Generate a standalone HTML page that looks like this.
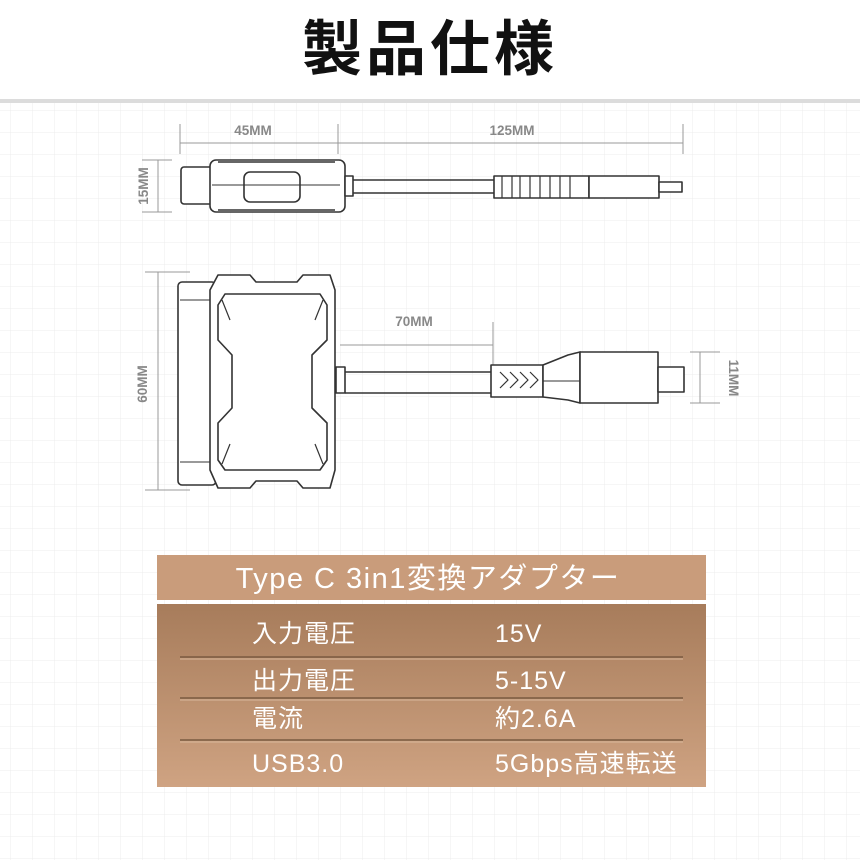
<!DOCTYPE html>
<html><head><meta charset="utf-8"><style>
html,body{margin:0;padding:0;background:#fff}
svg{display:block}
text{font-family:"Liberation Sans","Noto Sans CJK JP",sans-serif}
</style></head><body>
<svg width="860" height="860" viewBox="0 0 860 860" xmlns="http://www.w3.org/2000/svg">
<defs>
<pattern id="g" x="10" y="0" width="22" height="22" patternUnits="userSpaceOnUse">
<path d="M0 0V22M0 0H22" stroke="#ececec" stroke-width="1" fill="none"/>
</pattern>
<linearGradient id="tb" x1="0" y1="0" x2="0" y2="1">
<stop offset="0" stop-color="#a77c5b"/><stop offset="1" stop-color="#cfa382"/>
</linearGradient>
</defs>
<rect width="860" height="860" fill="#fff"/>
<rect x="0" y="103" width="860" height="757" fill="url(#g)"/>
<rect x="0" y="99" width="860" height="4" fill="#dcdcdc"/>
<text x="430" y="70" text-anchor="middle" font-size="60" font-weight="bold" letter-spacing="4" fill="#111">製品仕様</text>

<g stroke="#999" stroke-width="1" fill="none">
<path d="M180 124V154M180 143H683M338 124V154M683 124V154"/>
<path d="M142 160H172M142 212H172M158 160V212"/>
<path d="M145 272H190M145 490H190M158 272V490"/>
<path d="M340 345H493M493 322V370"/>
<path d="M690 352H720M690 403H720M700 352V403"/>
</g>
<g fill="#888" font-weight="bold" font-size="13.5">
<text x="253" y="135" text-anchor="middle">45MM</text>
<text x="512" y="135" text-anchor="middle">125MM</text>
<text x="414" y="326" text-anchor="middle">70MM</text>
<text transform="translate(148,186) rotate(-90)" text-anchor="middle">15MM</text>
<text transform="translate(147,384) rotate(-90)" text-anchor="middle">60MM</text>
<text transform="translate(729,378) rotate(90)" text-anchor="middle">11MM</text>
</g>

<g stroke="#333" stroke-width="1.6" fill="#fff" stroke-linejoin="round">
<rect x="181" y="167" width="32" height="37" rx="3"/>
<rect x="210" y="160" width="135" height="52" rx="6"/>
<path d="M218 162H335M218 210H335"/>
<rect x="244" y="172" width="56" height="30" rx="6"/>
<path d="M212 185H340" stroke-width="1"/>
<rect x="345" y="176" width="8" height="20"/>
<path d="M353 180H495M353 193H495"/>
<rect x="494" y="176" width="95" height="22"/>
<path d="M502 176V198M512 176V198M520 176V198M530 176V198M540 176V198M550 176V198M560 176V198M570 176V198" stroke-width="1.2"/>
<rect x="589" y="176" width="70" height="22"/>
<rect x="659" y="182" width="23" height="10"/>

<rect x="178" y="282" width="38" height="203" rx="4"/>
<path d="M180 300H216M180 462H216" stroke-width="1"/>
<path d="M218 275H250L256 282H297L303 275H330L335 290V470L330 488H303L297 481H256L250 488H218L210 470V290Z"/>
<path d="M225 294H320L327 305V340L312 355V408L327 423V460L320 470H225L218 460V423L232 408V355L218 340V305Z"/>
<path d="M222 300L230 320M323 300L315 320M222 464L230 444M323 464L315 444" stroke-width="1.2"/>
<rect x="336" y="367" width="9" height="26"/>
<path d="M345 372H492M345 393H492"/>
<rect x="491" y="365" width="52" height="32"/>
<path d="M500 372L508 380L500 388M510 372L518 380L510 388M520 372L528 380L520 388M530 372L538 380L530 388" fill="none" stroke-width="1.2"/>
<path d="M543 365L568 355L580 352V403L568 400L543 397Z"/>
<path d="M543 381H580" stroke-width="1"/>
<rect x="580" y="352" width="78" height="51"/>
<rect x="658" y="367" width="26" height="25"/>
</g>

<rect x="157" y="555" width="549" height="45" fill="#c99c7b"/>
<rect x="157" y="604" width="549" height="183" fill="url(#tb)"/>
<g stroke="#7a5a40" stroke-width="1.5"><path d="M180 657H683M180 698H683M180 740H683"/></g>
<g stroke="#d9b89c" stroke-width="1"><path d="M180 659H683M180 700H683M180 742H683"/></g>
<g fill="#fff" font-size="25" letter-spacing="1">
<text x="428" y="588" text-anchor="middle" font-size="29" letter-spacing="1.5">Type C 3in1変換アダプター</text>
<text x="252" y="642">入力電圧</text><text x="495" y="642">15V</text>
<text x="252" y="689">出力電圧</text><text x="495" y="689">5-15V</text>
<text x="252" y="727">電流</text><text x="495" y="727">約2.6A</text>
<text x="252" y="772">USB3.0</text><text x="495" y="772">5Gbps高速転送</text>
</g>
</svg>
</body></html>
